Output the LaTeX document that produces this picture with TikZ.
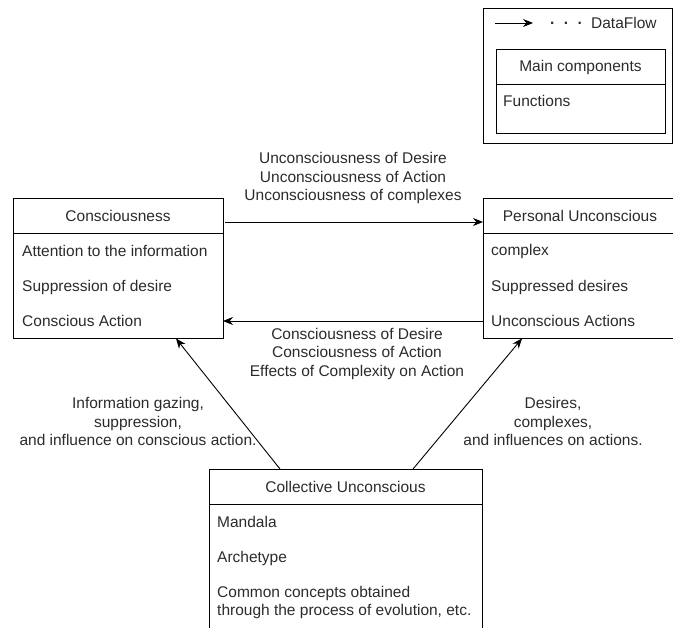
\documentclass[tikz,border=0pt]{standalone}
\usepackage{fontspec}
\setmainfont{Liberation Sans}
\usetikzlibrary{arrows.meta}
\definecolor{txt}{HTML}{2B2B2B}
\begin{document}
\begin{tikzpicture}[x=1pt,y=-1pt,
  every node/.style={font=\fontsize{15.5}{18.5}\selectfont, text=txt, inner sep=0pt},
  frame/.style={draw=black, line width=0.9pt},
  flow/.style={draw=black, line width=0.9pt, -{Stealth[length=10pt,width=8pt]}},
  item/.style={anchor=west},
  lbl/.style={align=center}]
\useasboundingbox (0,0) rectangle (673,628);
\clip (0,0) rectangle (673,628);

% legend
\node[frame, anchor=north west, minimum width=189pt, minimum height=135pt] (legend) at (483,8) {};
\coordinate (la) at (495,23);
\coordinate (lb) at (533,23);
\draw[flow] (la) -- (lb);
\node[anchor=west] (lt) at (550,23) {\textbf{·}\hspace{8.5pt}\textbf{·}\hspace{8.5pt}\textbf{·}\hspace{8.5pt}DataFlow};
\node[frame, anchor=north west, minimum width=169pt, minimum height=84pt] (legbox) at (496,49) {};
\draw[frame] (496,84) -- (665,84);
\node (lhead) at (580.5,67) {Main components};
\node[item] (lfun) at (503,101) {Functions};

% Consciousness
\node[frame, anchor=north west, minimum width=210pt, minimum height=140pt] (cons) at (13,198) {};
\draw[frame] (13,233) -- (223,233);
\node (chead) at (118,216) {Consciousness};
\node[item] (c1) at (22,251) {Attention to the information};
\node[item] (c2) at (22,287) {Suppression of desire};
\node[item] (c3) at (22,321) {Conscious Action};

% Personal Unconscious
\node[frame, anchor=north west, minimum width=194pt, minimum height=140pt] (pers) at (483,198) {};
\draw[frame] (483,233) -- (677,233);
\node (phead) at (580,216) {Personal Unconscious};
\node[item] (p1) at (491,251) {complex};
\node[item] (p2) at (491,287) {Suppressed desires};
\node[item] (p3) at (491,321) {Unconscious Actions};

% Collective Unconscious
\node[frame, anchor=north west, minimum width=273pt, minimum height=190pt] (coll) at (209,469) {};
\draw[frame] (209,504) -- (482,504);
\node (khead) at (345.5,487) {Collective Unconscious};
\node[item] (k1) at (217,522) {Mandala};
\node[item] (k2) at (217,558) {Archetype};
\node[item, align=left] (k3) at (217,602.5) {Common concepts obtained\\through the process of evolution, etc.};

% connectors
\coordinate (a1s) at (225,222);
\coordinate (a1e) at (483,222);
\draw[flow] (a1s) -- (a1e);
\node[lbl] (a1l) at (353,178) {Unconsciousness of Desire\\Unconsciousness of Action\\Unconsciousness of complexes};

\coordinate (a2s) at (483,321);
\coordinate (a2e) at (223,321);
\draw[flow] (a2s) -- (a2e);
\node[lbl] (a2l) at (357,353.5) {Consciousness of Desire\\Consciousness of Action\\Effects of Complexity on Action};

\coordinate (a3s) at (280,469);
\coordinate (a3e) at (176,338.5);
\draw[flow] (a3s) -- (a3e);
\node[lbl] (a3l) at (138,421.5) {Information gazing,\\suppression,\\and influence on conscious action.};

\coordinate (a4s) at (413,469);
\coordinate (a4e) at (522,338.5);
\draw[flow] (a4s) -- (a4e);
\node[lbl] (a4l) at (553,421.5) {Desires,\\complexes,\\and influences on actions.};
\end{tikzpicture}
\end{document}
